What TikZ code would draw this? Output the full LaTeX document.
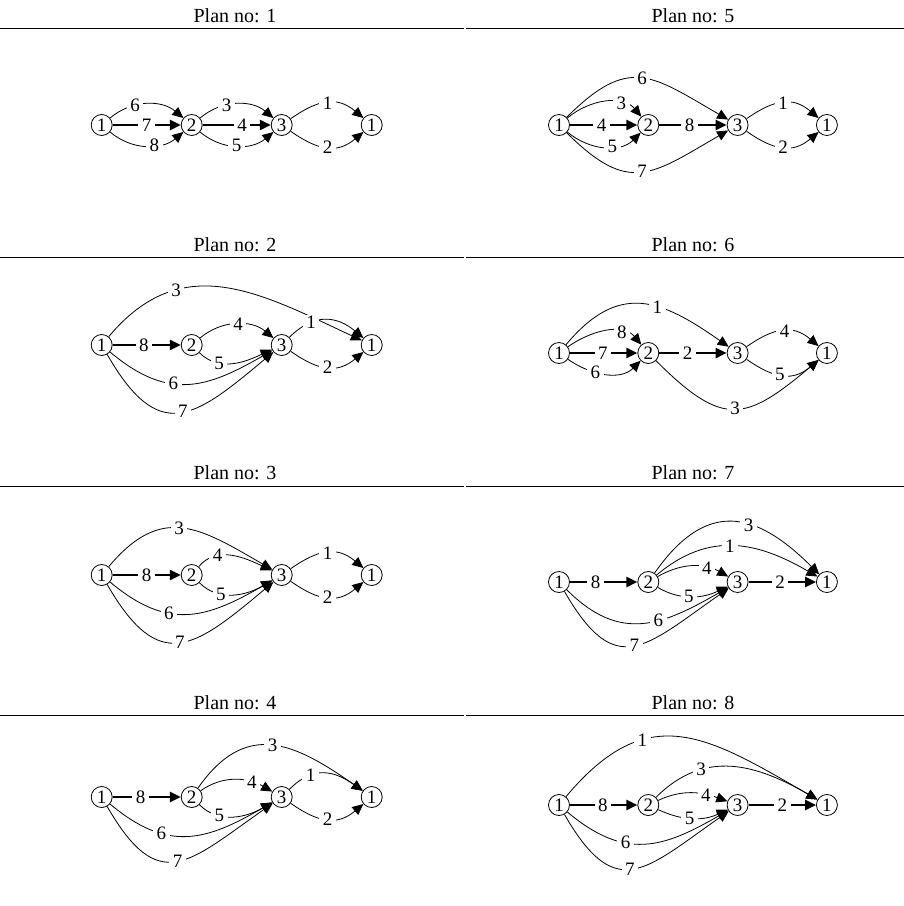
\documentclass[tikz,border=0pt]{standalone}
\usepackage{fontspec}
\setmainfont{Liberation Serif}
\usetikzlibrary{arrows.meta}

\tikzset{
  stage/.style={circle,draw,line width=0.8pt,inner sep=0pt,minimum size=21pt,font=\fontsize{19}{22}\selectfont},
  act/.style={line width=0.8pt,-{Triangle[length=11pt,width=10pt]}},
  crit/.style={act,line width=2.5pt},
  lbl/.style={fill=white,inner xsep=3.5pt,inner ysep=1pt,font=\fontsize{19}{22}\selectfont}
}

\begin{document}
\begin{tikzpicture}[x=1pt,y=1pt]
    \useasboundingbox (0,0) rectangle (904,-906);

    % Titles and rules
    \foreach \p/\x/\y in {1/235/16,2/235/245,3/235/473,4/235/703,5/693/16,6/693/245,7/693/473,8/693/703}
      \node[font=\fontsize{20}{24}\selectfont] (t\p) at (\x,-\y) {Plan no: \p};
    \foreach \y in {28,257,486,715} {
      \draw[line width=0.8pt] (0,-\y) -- (464,-\y);
      \draw[line width=0.8pt] (466,-\y) -- (904,-\y);
    }

    % Stages of each plan
    \foreach \p/\x/\y/\d in {1/101.7/125/90,2/101.7/345/90,3/101.7/575/90,4/101.7/797/90,
                             5/559/125/89.3,6/559/353/89.3,7/559/582/89.3,8/559/805/89.3} {
      \node[stage] (a\p) at (\x,-\y) {1};
      \node[stage] (b\p) at (\x+\d,-\y) {2};
      \node[stage] (c\p) at (\x+2*\d,-\y) {3};
      \node[stage] (d\p) at (\x+3*\d,-\y) {1};
    }

    % Plan 1
    \draw[act] (a1) to[out=40,in=140] node[lbl,pos=.35]{6} (b1);
    \draw[crit] (a1) -- node[lbl,pos=.5]{7} (b1);
    \draw[act] (a1) to[out=-40,in=-140] node[lbl,pos=.6]{8} (b1);
    \draw[act] (b1) to[out=40,in=140] node[lbl,pos=.37]{3} (c1);
    \draw[crit] (b1) -- node[lbl,pos=.58]{4} (c1);
    \draw[act] (b1) to[out=-40,in=-140] node[lbl,pos=.5]{5} (c1);
    \draw[act] (c1) to[out=35,in=140,looseness=1.2] node[lbl,pos=.5]{1} (d1);
    \draw[act] (c1) to[out=-35,in=-140,looseness=1.2] node[lbl,pos=.5]{2} (d1);

    % Plan 5
    \draw[act] (a5) to[out=45,in=150,looseness=1.4] node[lbl,pos=.5]{6} (c5);
    \draw[act] (a5) to[out=40,in=130] node[lbl,pos=.7]{3} (b5);
    \draw[crit] (a5) -- node[lbl,pos=.47]{4} (b5);
    \draw[act] (a5) to[out=-40,in=-135] node[lbl,pos=.6]{5} (b5);
    \draw[crit] (b5) -- node[lbl,pos=.45]{8} (c5);
    \draw[act] (a5) to[out=-45,in=-150,looseness=1.4] node[lbl,pos=.5]{7} (c5);
    \draw[act] (c5) to[out=35,in=140,looseness=1.2] node[lbl,pos=.5]{1} (d5);
    \draw[act] (c5) to[out=-35,in=-140,looseness=1.2] node[lbl,pos=.5]{2} (d5);

    % Plan 2
    \draw[act] (a2) to[out=50,in=155,looseness=1.15] node[lbl,pos=.3]{3} (d2);
    \draw[crit] (a2) -- node[lbl,pos=.46]{8} (b2);
    \draw[act] (b2) to[out=40,in=140] node[lbl,pos=.52]{4} (c2);
    \draw[act] (b2) to[out=-45,in=-155] node[lbl,pos=.3]{5} (c2);
    \draw[act] (c2) to[out=45,in=140,looseness=1.2] node[lbl,pos=.3]{1} (d2);
    \draw[act] (c2) to[out=-35,in=-140,looseness=1.2] node[lbl,pos=.5]{2} (d2);
    \draw[act] (a2) to[out=-40,in=-150,looseness=1.2] node[lbl,pos=.4]{6} (c2);
    \draw[act] (a2) to[out=-60,in=-140,looseness=1.6] node[lbl,pos=.52]{7} (c2);

    % Plan 6
    \draw[act] (a6) to[out=50,in=145,looseness=1.3] node[lbl,pos=.6]{1} (c6);
    \draw[act] (a6) to[out=35,in=130] node[lbl,pos=.7]{8} (b6);
    \draw[crit] (a6) -- node[lbl,pos=.49]{7} (b6);
    \draw[act] (a6) to[out=-35,in=-135] node[lbl,pos=.37]{6} (b6);
    \draw[crit] (b6) -- node[lbl,pos=.42]{2} (c6);
    \draw[act] (c6) to[out=35,in=140,looseness=1.2] node[lbl,pos=.52]{4} (d6);
    \draw[act] (c6) to[out=-35,in=-140,looseness=1.2] node[lbl,pos=.45]{5} (d6);
    \draw[act] (b6) to[out=-45,in=-140,looseness=1.5] node[lbl,pos=.5]{3} (d6);

    % Plan 3
    \draw[act] (a3) to[out=50,in=150,looseness=1.3] node[lbl,pos=.47]{3} (c3);
    \draw[crit] (a3) -- node[lbl,pos=.5]{8} (b3);
    \draw[act] (b3) to[out=50,in=155] node[lbl,pos=.3]{4} (c3);
    \draw[act] (b3) to[out=-45,in=-150] node[lbl,pos=.32]{5} (c3);
    \draw[act] (a3) to[out=-40,in=-150,looseness=1.2] node[lbl,pos=.37]{6} (c3);
    \draw[act] (a3) to[out=-60,in=-140,looseness=1.6] node[lbl,pos=.5]{7} (c3);
    \draw[act] (c3) to[out=35,in=140,looseness=1.2] node[lbl,pos=.5]{1} (d3);
    \draw[act] (c3) to[out=-35,in=-140,looseness=1.2] node[lbl,pos=.5]{2} (d3);

    % Plan 7
    \draw[crit] (a7) -- node[lbl,pos=.38]{8} (b7);
    \draw[act] (b7) to[out=55,in=135,looseness=1.4] node[lbl,pos=.6]{3} (d7);
    \draw[act] (b7) to[out=40,in=150,looseness=1.1] node[lbl,pos=.47]{1} (d7);
    \draw[act] (b7) to[out=30,in=150] node[lbl,pos=.7]{4} (c7);
    \draw[act] (b7) to[out=-30,in=-155] node[lbl,pos=.45]{5} (c7);
    \draw[crit] (c7) -- node[lbl,pos=.47]{2} (d7);
    \draw[act] (a7) to[out=-45,in=-150,looseness=1.2] node[lbl,pos=.6]{6} (c7);
    \draw[act] (a7) to[out=-60,in=-145,looseness=1.6] node[lbl,pos=.5]{7} (c7);

    % Plan 4
    \draw[crit] (a4) -- node[lbl,pos=.41]{8} (b4);
    \draw[act] (b4) to[out=55,in=145,looseness=1.3] node[lbl,pos=.5]{3} (d4);
    \draw[act] (b4) to[out=35,in=150] node[lbl,pos=.72]{4} (c4);
    \draw[act] (c4) to[out=45,in=145,looseness=1.2] node[lbl,pos=.3]{1} (d4);
    \draw[act] (b4) to[out=-45,in=-150] node[lbl,pos=.3]{5} (c4);
    \draw[act] (c4) to[out=-35,in=-140,looseness=1.2] node[lbl,pos=.5]{2} (d4);
    \draw[act] (a4) to[out=-40,in=-150,looseness=1.2] node[lbl,pos=.32]{6} (c4);
    \draw[act] (a4) to[out=-60,in=-145,looseness=1.6] node[lbl,pos=.5]{7} (c4);

    % Plan 8
    \draw[act] (a8) to[out=50,in=150,looseness=1.3] node[lbl,pos=.33]{1} (d8);
    \draw[act] (b8) to[out=45,in=150,looseness=1.1] node[lbl,pos=.3]{3} (d8);
    \draw[crit] (a8) -- node[lbl,pos=.49]{8} (b8);
    \draw[act] (b8) to[out=25,in=160] node[lbl,pos=.7]{4} (c8);
    \draw[act] (b8) to[out=-25,in=-155] node[lbl,pos=.45]{5} (c8);
    \draw[crit] (c8) -- node[lbl,pos=.5]{2} (d8);
    \draw[act] (a8) to[out=-40,in=-150,looseness=1.2] node[lbl,pos=.37]{6} (c8);
    \draw[act] (a8) to[out=-60,in=-145,looseness=1.6] node[lbl,pos=.47]{7} (c8);

\end{tikzpicture}
\end{document}
